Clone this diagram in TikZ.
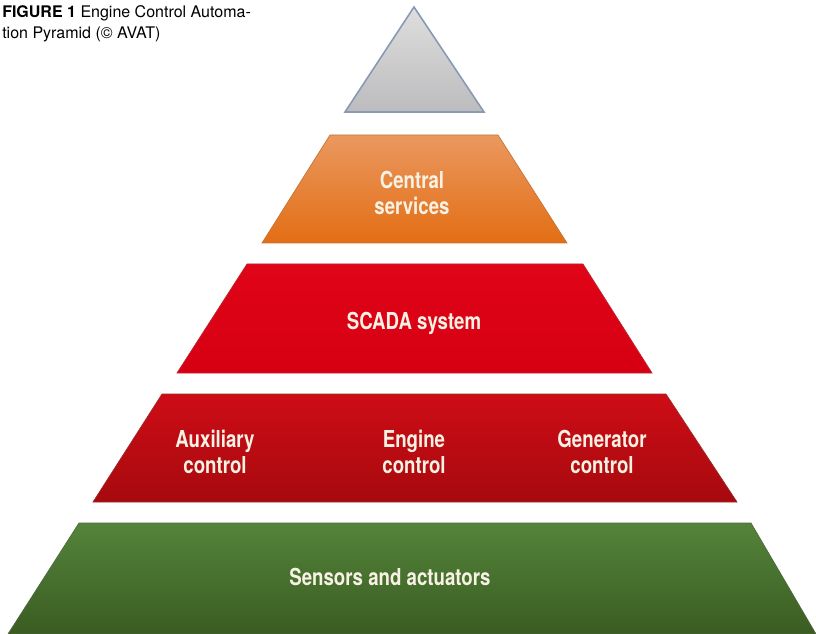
\documentclass[tikz,border=0pt]{standalone}
\usepackage{fontspec}
\setmainfont{TeX Gyre Heros}[FakeStretch=0.8]
\newfontfamily\captionfont{TeX Gyre Heros}
\usetikzlibrary{positioning}

\definecolor{tiplight}{RGB}{222,222,222}
\definecolor{tipdark}{RGB}{188,188,190}
\definecolor{tipedge}{RGB}{136,154,180}
\definecolor{servtop}{RGB}{234,152,96}
\definecolor{servbot}{RGB}{227,110,20}
\definecolor{scadatop}{RGB}{224,4,24}
\definecolor{scadabot}{RGB}{214,0,18}
\definecolor{ctrltop}{RGB}{206,12,22}
\definecolor{ctrlbot}{RGB}{166,10,14}
\definecolor{fieldtop}{RGB}{84,132,58}
\definecolor{fieldbot}{RGB}{58,92,34}
\definecolor{labeltext}{RGB}{248,242,228}

\tikzset{
	layer/.style={line width=0.5pt},
	layertext/.style={text=labeltext, align=center, font=\bfseries\fontsize{17.5}{19}\selectfont},
}

\begin{document}
\begin{tikzpicture}[x=0.75pt, y=-0.75pt]
			%%%%% START %%%%%
			\useasboundingbox (0, 0) rectangle (816, 634);
			
			\node[anchor=north west, align=left, inner sep=0pt, font=\captionfont\fontsize{12}{15.75}\selectfont] (caption) at (2, 5)
				{\textbf{FIGURE 1} Engine Control Automa-\\tion Pyramid (© AVAT)};
			
			% tip
			\draw[line width=1.2pt, draw=tipedge, top color=tiplight, bottom color=tipdark]
				(414, 7) -- (484, 112) -- (345, 112) -- cycle;
			
			% central services
			\draw[layer, draw=servbot!70!gray, top color=servtop, bottom color=servbot]
				(330, 135) -- (498, 135) -- (567, 243) -- (262, 243) -- cycle;
			\node[layertext] (services) at (412, 193) {Central\\services};
			
			% SCADA
			\draw[layer, draw=scadabot!70!gray, top color=scadatop, bottom color=scadabot]
				(247, 264) -- (583, 264) -- (652, 373) -- (177, 373) -- cycle;
			\node[layertext] (scada) at (414, 323) {SCADA system};
			
			% controls
			\draw[layer, draw=ctrlbot!70!gray, top color=ctrltop, bottom color=ctrlbot]
				(162, 394) -- (666, 394) -- (737, 502) -- (93, 502) -- cycle;
			\node[layertext] (engine) at (414, 452) {Engine\\control};
			\node[layertext] (aux) at (215, 452) {Auxiliary\\control};
			\node[layertext] (gen) at (602, 452) {Generator\\control};
			
			% field level
			\draw[layer, draw=fieldbot!70!gray, top color=fieldtop, bottom color=fieldbot]
				(79, 523) -- (751, 523) -- (816, 634) -- (8, 634) -- cycle;
			\node[layertext] (field) at (390, 577) {Sensors and actuators};
			%%%%% END %%%%%
\end{tikzpicture}
\end{document}
